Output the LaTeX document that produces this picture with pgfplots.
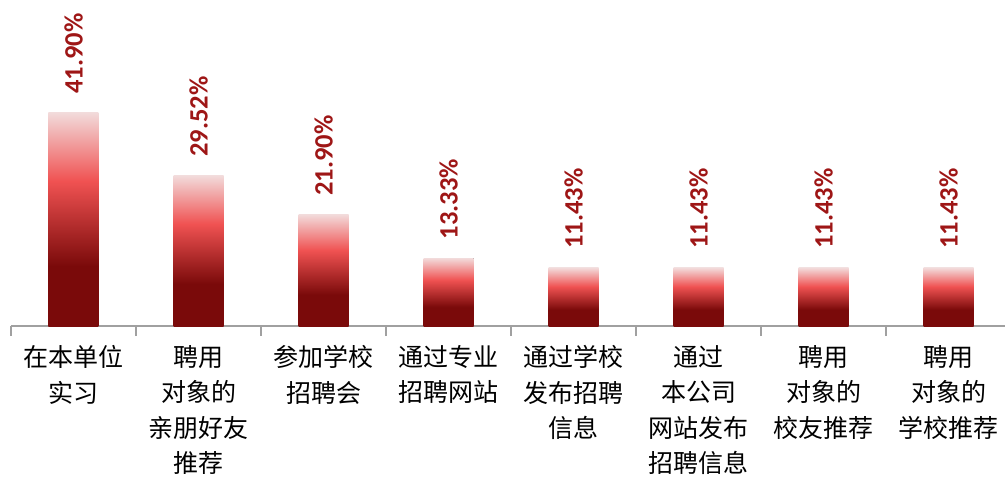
\documentclass[border=0pt]{standalone}
\usepackage{fontspec}
\setmainfont{Carlito}
\newfontfamily\cjk{Noto Sans CJK SC}
\usepackage{pgfplots}
\pgfplotsset{compat=1.18}
\definecolor{pale}{RGB}{242,218,218}
\definecolor{bright}{RGB}{240,82,82}
\definecolor{deep}{RGB}{122,10,10}
\definecolor{labelred}{RGB}{158,22,22}
\definecolor{axgray}{RGB}{160,160,160}
\pgfdeclareverticalshading{barshade}{100bp}{color(0bp)=(deep); color(39bp)=(deep); color(59bp)=(bright); color(75bp)=(pale); color(100bp)=(pale)}
\begin{document}
\begin{tikzpicture}
\begin{axis}[
  at={(0,0)}, anchor=south west,
  scale only axis,
  width=993.75pt, height=325.4pt,
  xmin=-0.5, xmax=7.45,
  ymin=0, ymax=64,
  axis x line=bottom, axis y line=none,
  axis line style={-, draw=axgray, line width=1.3pt},
  xtick={0,...,7},
  major tick length=0pt,
  minor xtick={-0.5,0.5,1.5,2.5,3.5,4.5,5.5,6.5},
  minor tick length=10pt,
  tick align=inside,
  minor tick style={draw=axgray, line width=1.3pt},
  xticklabels={{在本单位\\实习},{聘用\\对象的\\亲朋好友\\推荐},{参加学校\\招聘会},{通过专业\\招聘网站},{通过学校\\发布招聘\\信息},{通过\\本公司\\网站发布\\招聘信息},{聘用\\对象的\\校友推荐},{聘用\\对象的\\学校推荐}},
  xticklabel style={font=\cjk\fontsize{25}{35.3}\selectfont, align=center, text=black, anchor=north, yshift=-16pt},
  ybar, bar width=50pt, bar shift=0pt,
  clip=false,
  nodes near coords={\pgfmathprintnumber[fixed,fixed zerofill,precision=2,assume math mode=true]{\pgfplotspointmeta}\%},
  every node near coord/.append style={yshift=19pt, rotate=90, anchor=west, inner sep=0pt, font=\bfseries\fontsize{26.5}{26.5}\selectfont, text=labelred},
  every axis plot/.append style={draw=none, shading=barshade},
]
\addplot coordinates {(0,41.90)};
\addplot coordinates {(1,29.52)};
\addplot coordinates {(2,21.90)};
\addplot coordinates {(3,13.33)};
\addplot coordinates {(4,11.43)};
\addplot coordinates {(5,11.43)};
\addplot coordinates {(6,11.43)};
\addplot coordinates {(7,11.43)};
\end{axis}
\pgfresetboundingbox
\path (-11pt,-151pt) rectangle (994pt,326pt);
\end{tikzpicture}
\end{document}
